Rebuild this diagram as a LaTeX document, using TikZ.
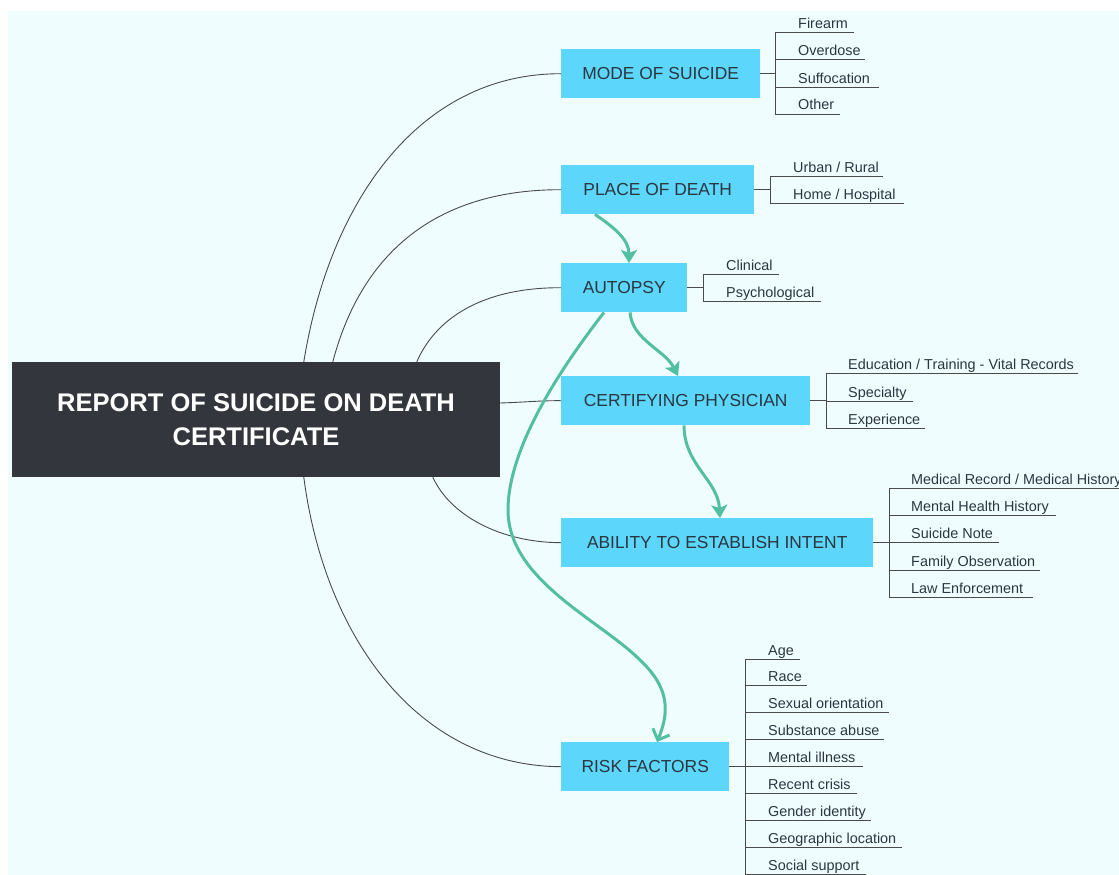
\documentclass[tikz,border=0pt]{standalone}
\usepackage{fontspec}
\setmainfont{Liberation Sans}
\usetikzlibrary{arrows.meta}
\definecolor{bgc}{HTML}{F0FDFE}
\definecolor{boxc}{HTML}{5DD6FB}
\definecolor{darkc}{HTML}{33363C}
\definecolor{tealc}{HTML}{52BFA3}
\definecolor{txtc}{HTML}{2B3640}
\definecolor{linec}{HTML}{4A4A4A}
\begin{document}
\begin{tikzpicture}[x=1pt,y=-1pt,
 topic/.style={fill=boxc, text=txtc, font=\fontsize{17.4}{20}\selectfont, minimum height=49pt, inner sep=0pt, anchor=north west},
 item/.style={anchor=base west, inner sep=0pt, text=txtc, font=\fontsize{14.4}{16}\selectfont},
 branch/.style={draw=linec, line width=1pt},
 conn/.style={draw=linec, line width=0.9pt},
 flow/.style={draw=tealc, line width=3pt, -{Stealth[length=13pt,width=16pt,inset=3pt]}},
 flowopen/.style={draw=tealc, line width=3pt, -{Straight Barb[length=9pt,width=18pt]}},
]
\clip (0,0) rectangle (1119,875);
\fill[white] (0,0) rectangle (1119,875);
\fill[bgc] (8,11) rectangle (1119,875);

% root
\node[fill=darkc, minimum width=488pt, minimum height=115pt, inner sep=0pt, text=white,
      font=\bfseries\fontsize{25.5}{34}\selectfont, align=center] (root) at (256,419.5)
      {REPORT OF SUICIDE ON DEATH\\CERTIFICATE};

% topics
\node[topic, minimum width=199pt] (mode) at (561,49) {MODE OF SUICIDE};
\node[topic, minimum width=193pt] (place) at (561,165) {PLACE OF DEATH};
\node[topic, minimum width=126pt] (autopsy) at (561,263) {AUTOPSY};
\node[topic, minimum width=249pt] (cert) at (561,376) {CERTIFYING PHYSICIAN};
\node[topic, minimum width=312pt] (ability) at (561,518) {ABILITY TO ESTABLISH INTENT};
\node[topic, minimum width=168pt] (risk) at (561,742) {RISK FACTORS};

% root connectors
\draw[conn] (root.north west) ++(292,0) .. controls (330,200) and (420,73.5) .. (mode.west);
\draw[conn] (root.north west) ++(321,0) .. controls (365,240) and (450,189.5) .. (place.west);
\draw[conn] (root.north west) ++(405,0) .. controls (435,320) and (480,287.5) .. (autopsy.west);
\draw[conn] (root.east) ++(0,-16.5) .. controls (530,402) and (540,400.5) .. (cert.west);
\draw[conn] (root.south west) ++(421,0) .. controls (450,515) and (500,542.5) .. (ability.west);
\draw[conn] (root.south west) ++(292,0) .. controls (325,640) and (420,766) .. (risk.west);

% mode items
\draw[branch] (mode.east) -- ++(15,0);
\draw[branch] (775,33) -- (775,114);
\foreach \y/\e/\t [count=\k] in {33/854/{Firearm},60/865/{Overdose},87/879/{Suffocation},114/840/{Other}}{
  \node[item] (mode-\k) at (798,\y-4) {\t};
  \draw[branch] (775,\y) -- (\e,\y);
}
% place items
\draw[branch] (place.east) -- ++(16,0);
\draw[branch] (770,176) -- (770,203);
\foreach \y/\e/\t [count=\k] in {176/883/{Urban / Rural},203/904/{Home / Hospital}}{
  \node[item] (place-\k) at (793,\y-4) {\t};
  \draw[branch] (770,\y) -- (\e,\y);
}
% autopsy items
\draw[branch] (autopsy.east) -- ++(16,0);
\draw[branch] (703,274) -- (703,301);
\foreach \y/\e/\t [count=\k] in {274/779/{Clinical},301/821/{Psychological}}{
  \node[item] (autopsy-\k) at (726,\y-4) {\t};
  \draw[branch] (703,\y) -- (\e,\y);
}
% cert items
\draw[branch] (cert.east) -- ++(16,0);
\draw[branch] (826,373) -- (826,428);
\foreach \y/\e/\t [count=\k] in {373/1078/{Education / Training - Vital Records},401/913/{Specialty},428/925/{Experience}}{
  \node[item] (cert-\k) at (848,\y-4) {\t};
  \draw[branch] (826,\y) -- (\e,\y);
}
% ability items
\draw[branch] (ability.east) -- ++(16,0);
\draw[branch] (889,488) -- (889,597);
\foreach \y/\e/\t [count=\k] in {488/1130/{Medical Record / Medical History},515/1056/{Mental Health History},542/999/{Suicide Note},570/1040/{Family Observation},597/1033/{Law Enforcement}}{
  \node[item] (ability-\k) at (911,\y-4) {\t};
  \draw[branch] (889,\y) -- (\e,\y);
}
% risk items
\draw[branch] (risk.east) -- ++(16,0);
\draw[branch] (745,659) -- (745,874);
\foreach \y/\e/\t [count=\k] in {659/800/{Age},685/807/{Race},712/889/{Sexual orientation},739/884/{Substance abuse},766/863/{Mental illness},793/857/{Recent crisis},820/871/{Gender identity},847/902/{Geographic location},874/866/{Social support}}{
  \node[item] (risk-\k) at (768,\y-4) {\t};
  \draw[branch] (745,\y) -- (\e,\y);
}

% flow arrows
\draw[flow] ([xshift=34pt]place.south west) .. controls (615,228) and (629,240) .. ([xshift=68pt]autopsy.north west);
\draw[flow] ([xshift=69pt]autopsy.south west) .. controls (632,340) and (665,350) .. ([xshift=117pt]cert.north west);
\draw[flow] ([xshift=123pt]cert.south west) .. controls (684,465) and (718,480) .. ([xshift=159pt]ability.north west);
\draw[flowopen] ([xshift=43pt]autopsy.south west) .. controls (575,350) and (508,440) .. (508,510)
   .. controls (508,580) and (600,620) .. (640,660)
   .. controls (672,690) and (668,715) .. ([xshift=96pt]risk.north west);
\end{tikzpicture}
\end{document}
